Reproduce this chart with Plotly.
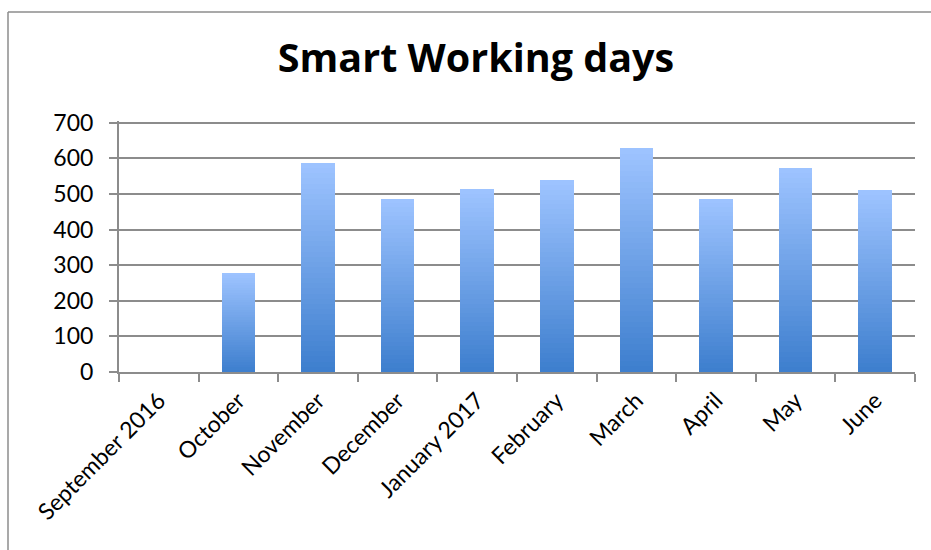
import plotly.graph_objects as go

months = ["September 2016", "October", "November", "December", "January 2017",
          "February", "March", "April", "May", "June"]
days = [0, 279, 588, 487, 513, 538, 628, 487, 574, 510]

title_text = "Smart Working days"
y_ticks = [0, 100, 200, 300, 400, 500, 600, 700]

# gradient: bars split into stacked slices (bottom dark -> top light)
N = 40
bottom = (62, 127, 206)
top = (157, 195, 255)

def lerp(a, b, t):
    return tuple(round(a[i] + (b[i] - a[i]) * t) for i in range(3))

fig = go.Figure()
for k in range(N):
    t = k / (N - 1)
    c = lerp(bottom, top, t)
    fig.add_trace(go.Bar(
        x=months,
        y=[v / N for v in days],
        marker=dict(color=f"rgb{c}", line=dict(width=0)),
        width=0.42,
        hoverinfo="skip",
        showlegend=False,
    ))

W, H = 931, 550
L, R, T, B = 119, 16, 121, 178
pw, ph = W - L - R, H - T - B

def px_x(px):
    return (px - L) / pw

def px_y(py):
    return (H - B - py) / ph

border = dict(color="#8c8c8c", width=1.5)

fig.update_layout(
    barmode="stack",
    bargap=0,
    width=W, height=H,
    margin=dict(l=L, r=R, t=T, b=B),
    paper_bgcolor="white",
    plot_bgcolor="white",
    font=dict(family="Lato, sans-serif", color="black", size=23),
    title=dict(text="<b>" + title_text + "</b>", x=476 / W, xref="container", xanchor="center",
               y=(H - 58) / H, yref="container", yanchor="middle",
               font=dict(size=39.5, family="Open Sans, sans-serif", color="black")),
    xaxis=dict(
        type="category",
        tickangle=-45,
        showline=True, linecolor="#8c8c8c", linewidth=2,
        ticks="outside", ticklen=8, tickcolor="#8c8c8c", tickwidth=1.5,
        tickson="boundaries",
        showgrid=False,
        tickfont=dict(size=23),
        ticklabelstandoff=4,
    ),
    yaxis=dict(
        range=[0, 705],
        tickvals=y_ticks,
        showline=True, linecolor="#8c8c8c", linewidth=2,
        ticks="outside", ticklen=8, tickcolor="#8c8c8c", tickwidth=1.5,
        showgrid=True, gridcolor="#8c8c8c", gridwidth=2,
        zeroline=False,
        tickfont=dict(size=23),
        ticklabelstandoff=11,
    ),
    shapes=[
        dict(type="line", xref="paper", yref="paper",
             x0=px_x(8), x1=px_x(W + 5), y0=px_y(12), y1=px_y(12), line=border, layer="below"),
        dict(type="line", xref="paper", yref="paper",
             x0=px_x(8), x1=px_x(8), y0=px_y(12), y1=px_y(H + 5), line=border, layer="below"),
    ],
)

fig.write_html(
    "out.html",
    config={"displayModeBar": False},
    post_script=(
        "document.body.style.margin='0';"
        "document.body.style.overflow='hidden';"
        "document.documentElement.style.overflow='hidden';"
    ),
)
